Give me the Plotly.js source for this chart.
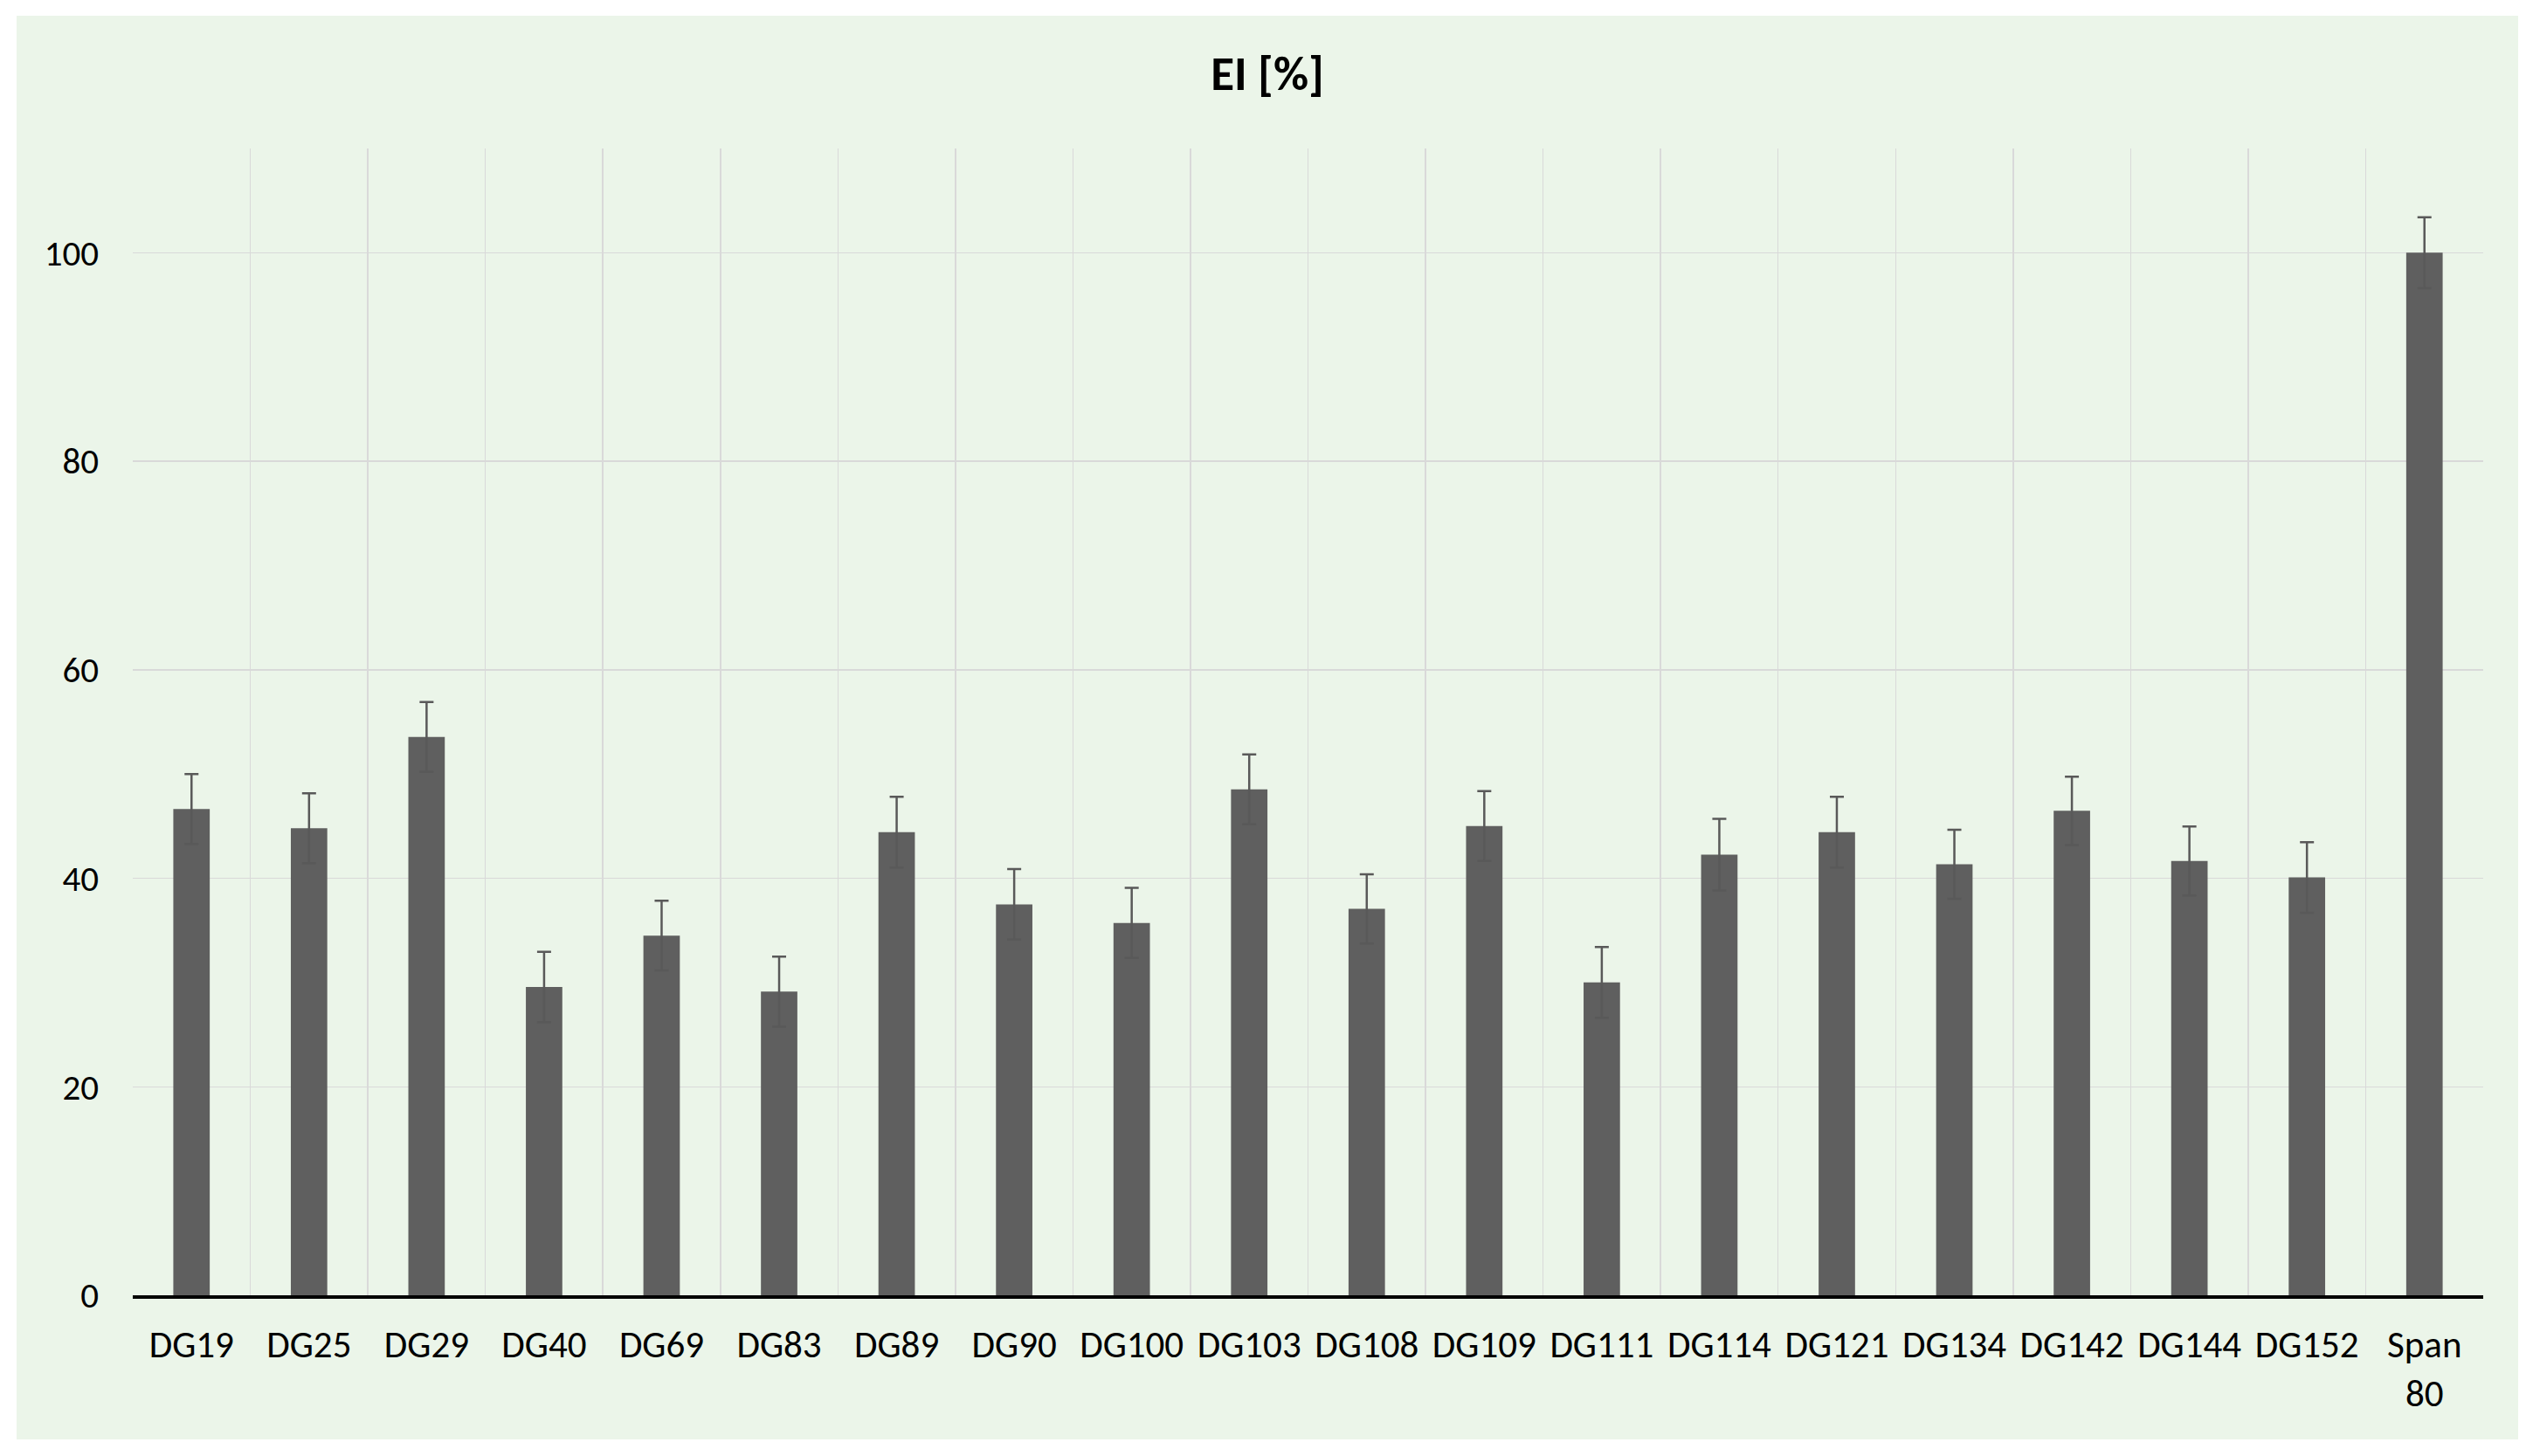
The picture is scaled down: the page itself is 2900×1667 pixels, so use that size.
<!DOCTYPE html>
<html>
<head>
<meta charset="utf-8">
<script src="https://cdn.plot.ly/plotly-3.0.1.min.js"></script>
<style>
  html, body { margin: 0; padding: 0; background: #ffffff; width: 2900px; height: 1667px; overflow: hidden; }
  #chart { position: absolute; left: 19px; top: 18px; width: 2864px; height: 1630px; }
</style>
</head>
<body>
<div id="chart"></div>
<script>
const categories = ["DG19","DG25","DG29","DG40","DG69","DG83","DG89","DG90","DG100","DG103",
                    "DG108","DG109","DG111","DG114","DG121","DG134","DG142","DG144","DG152","Span 80"];
const eiValues = [46.65, 44.8, 53.55, 29.57, 34.5, 29.13, 44.43, 37.5, 35.72, 48.52,
                  37.07, 45.01, 30.02, 42.27, 44.43, 41.35, 46.47, 41.66, 40.08, 100];
const eiErrors = [3.35, 3.35, 3.35, 3.37, 3.34, 3.36, 3.39, 3.39, 3.36, 3.35,
                  3.32, 3.35, 3.39, 3.43, 3.39, 3.31, 3.28, 3.31, 3.39, 3.4];
const tickLabels = categories.map(c => c.replace(" ", "<br>"));
const titleText = "EI [%]";

const fontFamily = "Carlito, Calibri, Lato, sans-serif";

const trace = {
  type: "bar",
  x: categories,
  y: eiValues,
  marker: { color: "#5f5f5f" },
  error_y: {
    type: "data",
    array: eiErrors,
    visible: true,
    color: "#595959",
    thickness: 2.5,
    width: 8
  },
  hoverinfo: "x+y"
};

const layout = {
  width: 2864,
  height: 1630,
  paper_bgcolor: "#ebf5e9",
  plot_bgcolor: "#ebf5e9",
  margin: { l: 133, r: 40, t: 152, b: 165, pad: 0 },
  showlegend: false,
  bargap: 0.69,
  title: {
    text: "<b>" + titleText + "</b>",
    font: { family: fontFamily, size: 55, color: "#000000" },
    x: 0.5,
    xref: "container",
    xanchor: "center",
    y: 0.9595,
    yref: "container",
    yanchor: "middle"
  },
  xaxis: {
    type: "category",
    tickmode: "array",
    tickvals: categories,
    ticktext: tickLabels,
    tickson: "boundaries",
    ticks: "",
    ticklabelstandoff: 16,
    showgrid: true,
    gridcolor: "#d9d9d9",
    gridwidth: 1.5,
    showline: true,
    linecolor: "#000000",
    linewidth: 3.5,
    tickfont: { family: fontFamily, size: 43, color: "#000000" },
    automargin: false,
    fixedrange: true
  },
  yaxis: {
    range: [0, 110],
    tickmode: "array",
    tickvals: [0, 20, 40, 60, 80, 100],
    ticks: "",
    showgrid: true,
    gridcolor: "#d9d9d9",
    gridwidth: 1.5,
    zeroline: false,
    showline: false,
    ticklabelstandoff: 38,
    tickfont: { family: fontFamily, size: 41, color: "#000000" },
    automargin: false,
    fixedrange: true
  }
};

Plotly.newPlot("chart", [trace], layout, { displayModeBar: false, staticPlot: true });
</script>
</body>
</html>
